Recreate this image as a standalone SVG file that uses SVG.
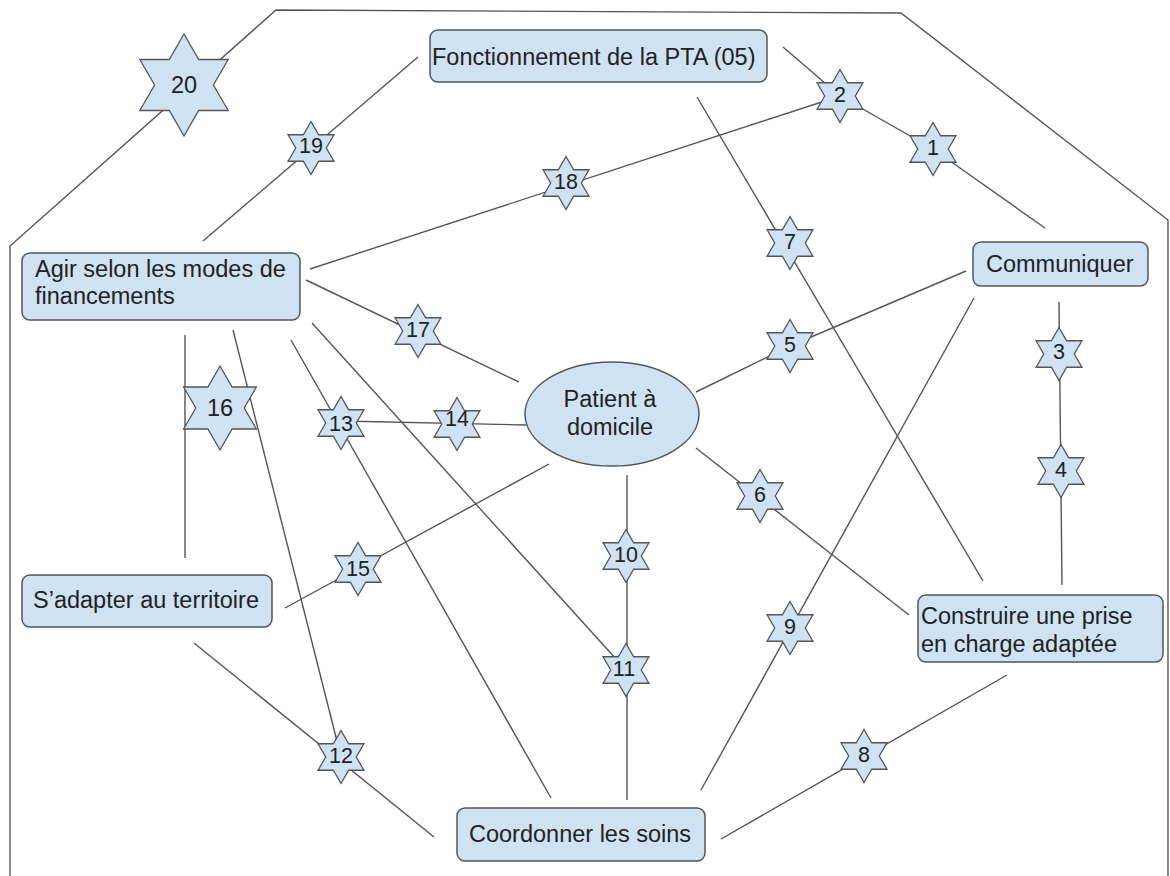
<svg xmlns="http://www.w3.org/2000/svg" width="1170" height="876" viewBox="0 0 1170 876">
<style>
.bg{fill:#ffffff}
.ln{fill:none;stroke:#555555;stroke-width:1.4}
.box{fill:#cfe2f3;stroke:#555555;stroke-width:1.5}
.st{fill:#cfe2f3;stroke:#555555;stroke-width:1.3;stroke-linejoin:miter}
.t{font-family:"Liberation Sans",Arial,sans-serif;font-size:23.5px;fill:#222222}
.n{font-family:"Liberation Sans",Arial,sans-serif;font-size:21.5px;fill:#222222;text-anchor:middle}
.nb{font-family:"Liberation Sans",Arial,sans-serif;font-size:23.5px;fill:#222222;text-anchor:middle}
</style>
<defs>
<path id="ss" d="M0,-26.5 L7.65,-13.25 L22.95,-13.25 L15.3,0 L22.95,13.25 L7.65,13.25 L0,26.5 L-7.65,13.25 L-22.95,13.25 L-15.3,0 L-22.95,-13.25 L-7.65,-13.25 Z"/>
<path id="sm" d="M0,-42 L12.1,-21 L36.4,-21 L24.2,0 L36.4,21 L12.1,21 L0,42 L-12.1,21 L-36.4,21 L-24.2,0 L-36.4,-21 L-12.1,-21 Z"/>
<path id="sl" d="M0,-51 L14.7,-25.5 L44.2,-25.5 L29.4,0 L44.2,25.5 L14.7,25.5 L0,51 L-14.7,25.5 L-44.2,25.5 L-29.4,0 L-44.2,-25.5 L-14.7,-25.5 Z"/>
</defs>
<rect class="bg" x="0" y="0" width="1170" height="876"/>
<g id="connectors">
<polyline class="ln" points="10,876 10,246 276,10 901,13 1168,220 1168,876"/>
<line class="ln" x1="418" y1="57" x2="203" y2="241"/>
<line class="ln" x1="310" y1="269" x2="840" y2="96"/>
<line class="ln" x1="306" y1="280" x2="519" y2="382"/>
<line class="ln" x1="697" y1="97" x2="983" y2="581"/>
<polyline class="ln" points="783,47 840,96 933,149 1045,228"/>
<polyline class="ln" points="966,271 790,346 696,392"/>
<line class="ln" x1="974" y1="298" x2="701" y2="790"/>
<line class="ln" x1="1059" y1="302" x2="1062" y2="585"/>
<line class="ln" x1="696" y1="448" x2="909" y2="615"/>
<line class="ln" x1="627" y1="475" x2="627" y2="800"/>
<line class="ln" x1="1007" y1="675" x2="721" y2="839"/>
<line class="ln" x1="526" y1="425" x2="341" y2="421"/>
<line class="ln" x1="291" y1="340" x2="551" y2="798"/>
<line class="ln" x1="312" y1="323" x2="626" y2="670"/>
<line class="ln" x1="185" y1="335" x2="185" y2="558"/>
<line class="ln" x1="233" y1="330" x2="341" y2="757"/>
<line class="ln" x1="194" y1="643" x2="434" y2="837"/>
<line class="ln" x1="285" y1="608" x2="549" y2="464"/>
</g>
<g id="node-fonctionnement">
<rect class="box" x="430" y="30" width="337" height="52" rx="8"/>
<text class="t" x="432" y="65">Fonctionnement de la PTA (05)</text>
</g>
<g id="node-agir">
<rect class="box" x="22" y="253" width="278" height="67" rx="8"/>
<text class="t" x="35" y="277">Agir selon les modes de</text>
<text class="t" x="35" y="304">financements</text>
</g>
<g id="node-communiquer">
<rect class="box" x="973" y="242" width="175" height="44" rx="8"/>
<text class="t" x="986" y="272">Communiquer</text>
</g>
<g id="node-patient">
<ellipse class="box" cx="612" cy="414" rx="87" ry="52"/>
<text class="t" x="610" y="407" text-anchor="middle">Patient à</text>
<text class="t" x="610" y="435" text-anchor="middle">domicile</text>
</g>
<g id="node-sadapter">
<rect class="box" x="22" y="575" width="250" height="52" rx="8"/>
<text class="t" x="33" y="608">S’adapter au territoire</text>
</g>
<g id="node-construire">
<rect class="box" x="918" y="595" width="245" height="67" rx="8"/>
<text class="t" x="921" y="624">Construire une prise</text>
<text class="t" x="921" y="652">en charge adaptée</text>
</g>
<g id="node-coordonner">
<rect class="box" x="457" y="808" width="248" height="53" rx="8"/>
<text class="t" x="469" y="842">Coordonner les soins</text>
</g>
<g id="star-20"><use href="#sl" class="st" x="184" y="85"/><text class="nb" x="184" y="93">20</text></g>
<g id="star-16"><use href="#sm" class="st" x="220" y="408"/><text class="nb" x="220" y="416">16</text></g>
<g id="star-19"><use href="#ss" class="st" x="311" y="148"/><text class="n" x="311" y="153">19</text></g>
<g id="star-18"><use href="#ss" class="st" x="566" y="183"/><text class="n" x="566" y="189">18</text></g>
<g id="star-2"><use href="#ss" class="st" x="840" y="96"/><text class="n" x="840" y="102">2</text></g>
<g id="star-1"><use href="#ss" class="st" x="933" y="149"/><text class="n" x="933" y="155">1</text></g>
<g id="star-7"><use href="#ss" class="st" x="790" y="243"/><text class="n" x="790" y="249">7</text></g>
<g id="star-5"><use href="#ss" class="st" x="790" y="346"/><text class="n" x="790" y="352">5</text></g>
<g id="star-3"><use href="#ss" class="st" x="1059" y="354"/><text class="n" x="1059" y="359">3</text></g>
<g id="star-4"><use href="#ss" class="st" x="1061" y="471"/><text class="n" x="1061" y="477">4</text></g>
<g id="star-6"><use href="#ss" class="st" x="760" y="496"/><text class="n" x="760" y="502">6</text></g>
<g id="star-10"><use href="#ss" class="st" x="626" y="556"/><text class="n" x="626" y="562">10</text></g>
<g id="star-17"><use href="#ss" class="st" x="418" y="331"/><text class="n" x="418" y="337">17</text></g>
<g id="star-13"><use href="#ss" class="st" x="341" y="423"/><text class="n" x="341" y="431">13</text></g>
<g id="star-14"><use href="#ss" class="st" x="457" y="424"/><text class="n" x="457" y="426">14</text></g>
<g id="star-15"><use href="#ss" class="st" x="358" y="569"/><text class="n" x="358" y="576">15</text></g>
<g id="star-12"><use href="#ss" class="st" x="341" y="757"/><text class="n" x="341" y="763">12</text></g>
<g id="star-11"><use href="#ss" class="st" x="626" y="670"/><text class="n" x="624" y="676">11</text></g>
<g id="star-9"><use href="#ss" class="st" x="790" y="628"/><text class="n" x="790" y="634">9</text></g>
<g id="star-8"><use href="#ss" class="st" x="864" y="756"/><text class="n" x="864" y="762">8</text></g>
</svg>
